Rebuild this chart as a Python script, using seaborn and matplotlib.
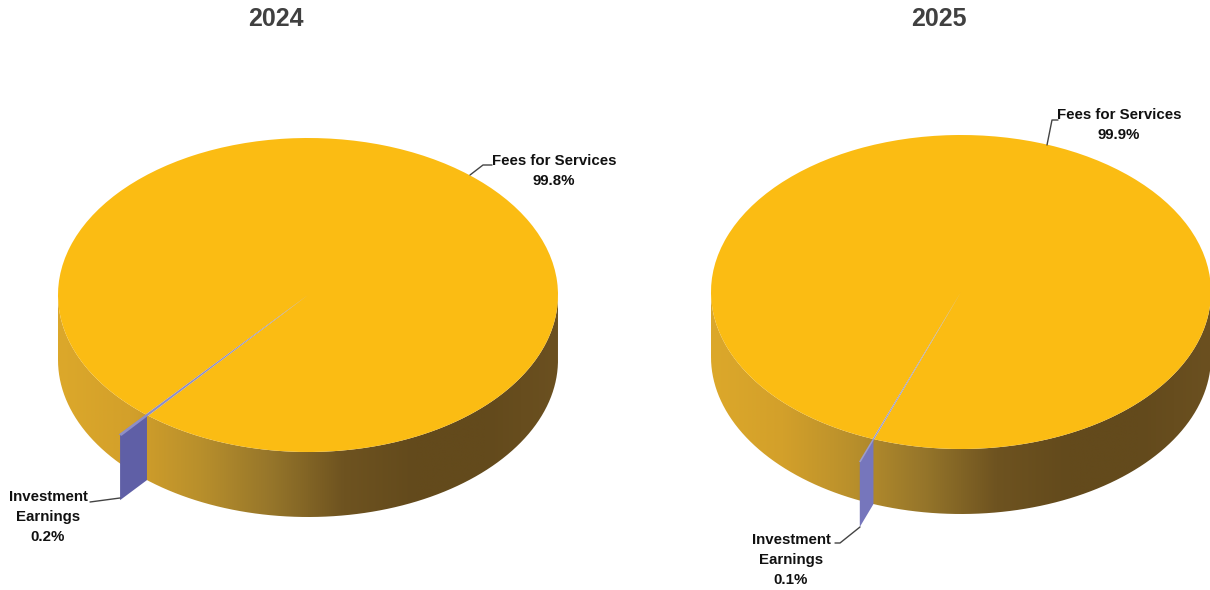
import numpy as np
import matplotlib
matplotlib.use("Agg")
import matplotlib.pyplot as plt
from matplotlib.patches import PathPatch, Polygon
from matplotlib.path import Path
import seaborn as sns

years = ["2024", "2025"]
categories = ["Fees for Services", "Investment\nEarnings"]
values_2024 = [99.8, 0.2]
values_2025 = [99.9, 0.1]

sns.set_theme(style="white")
plt.rcParams["font.family"] = ["Liberation Sans", "DejaVu Sans"]

W, H = 1210, 590
RX, RY, DEPTH = 250.0, 157.0, 65.0
TOP = "#FBBC13"
wall_cmap = sns.blend_palette(
    ["#DCA82A", "#D3A02A", "#B88F2C", "#95752A", "#6E5320", "#634A1C", "#634A1C", "#6B5020"],
    as_cmap=True)

fig = plt.figure(figsize=(W / 100, H / 100), dpi=100, facecolor="white")


def pie3d(values, year, span, cx, cy, angle, reach, face, line, labels):
    x0, x1 = span
    ax = fig.add_axes([x0 / W, 0, (x1 - x0) / W, 1])
    px = lambda x: (x - cx) / RX
    py = lambda y: (cy - y) / RY
    d = DEPTH / RY

    half = values[1] / sum(values) * 180
    wedges, _ = ax.pie(values, colors=[TOP, line], startangle=angle + half,
                       radius=1, wedgeprops={"linewidth": 0})
    wedges[0].set_zorder(3)
    wedges[1].set_zorder(5)
    wedges[1].set_radius(reach)

    t = np.radians(np.linspace(180, 360, 200))
    xs = np.r_[np.cos(t), np.cos(t)[::-1]]
    ys = np.r_[np.sin(t), np.sin(t)[::-1] - d]
    clip = PathPatch(Path(np.c_[xs, ys]), transform=ax.transData, fc="none", ec="none")
    ax.add_patch(clip)
    im = ax.imshow(np.linspace(0, 1, 512)[None, :], cmap=wall_cmap, aspect="auto",
                   extent=(-1, 1, -1 - d, 0), zorder=1, interpolation="bilinear")
    im.set_clip_path(clip)

    a = np.radians(angle)
    ca, sa = np.cos(a), np.sin(a)
    ax.add_patch(Polygon([(ca, sa), (reach * ca, reach * sa),
                          (reach * ca, reach * sa - d), (ca, sa - d)],
                         closed=True, fc=face, ec="none", zorder=4))

    ax.set_aspect("auto")
    ax.set_xlim(px(x0), px(x1))
    ax.set_ylim(py(H), py(0))
    ax.axis("off")

    fig.text(labels["title_x"] / W, 1 - 19 / H, year, ha="center", va="center",
             fontsize=18, fontweight="bold", color="#404040")
    for key, name, value in zip(("fees", "inv"), categories, values):
        tx, ty, leader = labels[key]
        ax.text(px(tx), py(ty), f"{name}\n{value}%", ha="center", va="center",
                fontsize=10.8, fontweight="bold", color="#111111", linespacing=1.58, zorder=7)
        ax.plot([px(p[0]) for p in leader], [py(p[1]) for p in leader],
                color="#444444", lw=1.0, zorder=6, solid_capstyle="round")
    return ax


pie3d(values_2024, years[0], (0, 605), 308, 295, 229.9, 1.167, "#5F5FA6", "#8E8EC6",
      {"title_x": 276,
       "fees": (554, 171, [(470, 175), (483, 165), (492, 165)]),
       "inv": (48, 517, [(90, 502), (120, 498)])})
pie3d(values_2025, years[1], (605, 1210), 961, 292, 249.5, 1.156, "#7676BC", "#9C9CCB",
      {"title_x": 939,
       "fees": (1119, 125, [(1047, 145), (1052, 120), (1058, 120)]),
       "inv": (791, 560, [(835, 543), (840, 543), (860, 527)])})

fig.savefig("out.png", dpi=100, facecolor="white")
